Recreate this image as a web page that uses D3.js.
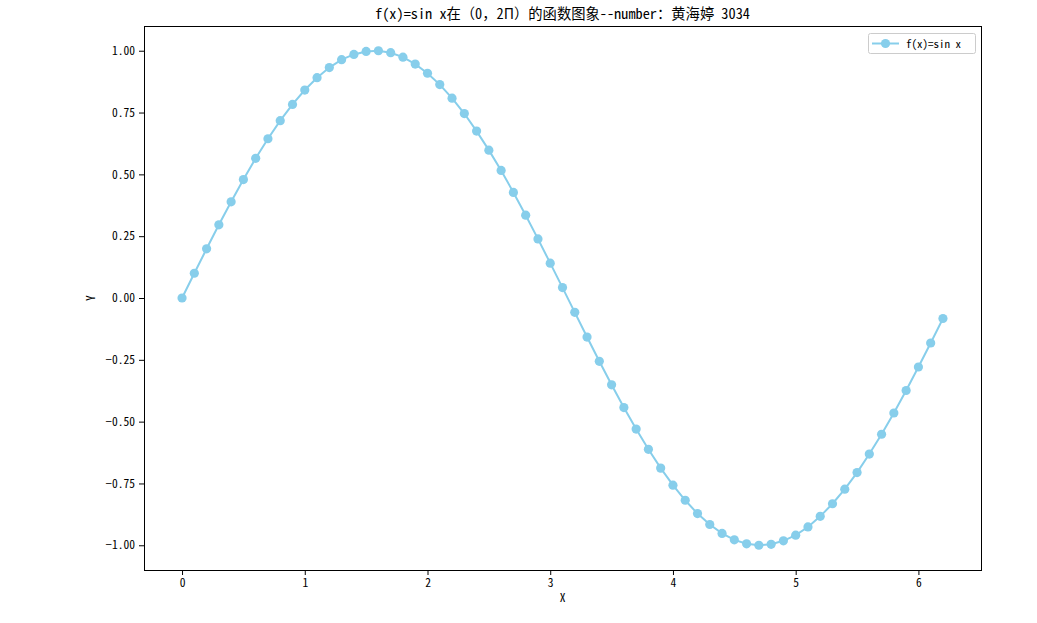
<!DOCTYPE html>
<html>
<head>
<meta charset="utf-8">
<script src="https://cdn.jsdelivr.net/npm/d3@7"></script>
<style>
  html, body { margin: 0; padding: 0; background: #fff; }
  text { font-family: "Noto Sans Mono CJK SC", "Noto Sans CJK SC", "DejaVu Sans", sans-serif; fill: #000; }
</style>
</head>
<body>
<svg id="chart" width="1037" height="623"></svg>
<script>
const xValues = [0.0,0.1,0.2,0.3,0.4,0.5,0.6,0.7,0.8,0.9,1.0,1.1,1.2,1.3,1.4,1.5,1.6,1.7,1.8,1.9,2.0,2.1,2.2,2.3,2.4,2.5,2.6,2.7,2.8,2.9,3.0,3.1,3.2,3.3,3.4,3.5,3.6,3.7,3.8,3.9,4.0,4.1,4.2,4.3,4.4,4.5,4.6,4.7,4.8,4.9,5.0,5.1,5.2,5.3,5.4,5.5,5.6,5.7,5.8,5.9,6.0,6.1,6.2];
const yValues = [0.000,0.100,0.199,0.296,0.389,0.479,0.565,0.644,0.717,0.783,0.841,0.891,0.932,0.964,0.985,0.997,1.000,0.992,0.974,0.946,0.909,0.863,0.808,0.746,0.675,0.598,0.516,0.427,0.335,0.239,0.141,0.042,-0.058,-0.158,-0.256,-0.351,-0.443,-0.530,-0.612,-0.688,-0.757,-0.818,-0.872,-0.916,-0.952,-0.978,-0.994,-1.000,-0.996,-0.982,-0.959,-0.926,-0.883,-0.832,-0.773,-0.706,-0.631,-0.551,-0.465,-0.374,-0.279,-0.182,-0.083];
const xTicks = [0,1,2,3,4,5,6];
const yTicks = [-1.00,-0.75,-0.50,-0.25,0.00,0.25,0.50,0.75,1.00];
const titleText = "f(x)=sin x在（0，2Π）的函数图象--number：黄海婷 3034";
const seriesLabel = "f(x)=sin x";
const xLabel = "X";
const yLabel = "Y";

const color = "#87CEEB";
const FONT = "'Noto Sans Mono CJK SC', 'Noto Sans CJK SC', sans-serif";
const mLeft = 144, mRight = 981, mTop = 26, mBottom = 570;
const svg = d3.select("#chart");

const x = d3.scaleLinear().domain([-0.31, 6.51]).range([mLeft, mRight]);
const y = d3.scaleLinear().domain([-1.1, 1.1]).range([mBottom, mTop]);

const fmtY = v => (v < 0 ? "\u2212" : "") + Math.abs(v).toFixed(2);

const xAxis = svg.append("g").attr("transform", `translate(0,${mBottom})`)
  .call(d3.axisBottom(x).tickValues(xTicks).tickSize(5).tickPadding(4).tickFormat(d3.format("d")));
const yAxis = svg.append("g").attr("transform", `translate(${mLeft},0)`)
  .call(d3.axisLeft(y).tickValues(yTicks).tickSize(5).tickPadding(4).tickFormat(fmtY));
[xAxis, yAxis].forEach(g => {
  g.select(".domain").remove();
  g.selectAll("line").attr("stroke", "#000").attr("stroke-width", 1);
  g.selectAll("text").attr("font-size", 11.5).attr("font-family", FONT).attr("fill", "#222");
});

// frame
svg.append("rect").attr("x", mLeft).attr("y", mTop).attr("width", mRight - mLeft).attr("height", mBottom - mTop)
  .attr("fill", "none").attr("stroke", "#000").attr("stroke-width", 1).attr("shape-rendering", "crispEdges");

const pts = xValues.map((v, i) => [v, yValues[i]]);
const line = d3.line().x(d => x(d[0])).y(d => y(d[1]));
svg.append("path").datum(pts).attr("d", line).attr("fill", "none").attr("stroke", color).attr("stroke-width", 2);
svg.append("g").selectAll("circle").data(pts).join("circle")
  .attr("cx", d => x(d[0])).attr("cy", d => y(d[1])).attr("r", 4.6).attr("fill", color);

// title
svg.append("text").attr("x", (mLeft + mRight) / 2).attr("y", 19).attr("text-anchor", "middle")
  .attr("font-size", 14.3).attr("fill", "#222").text(titleText);

// axis labels
svg.append("text").attr("x", (mLeft + mRight) / 2).attr("y", 602).attr("text-anchor", "middle")
  .attr("font-size", 11.5).attr("fill", "#222").text(xLabel);
svg.append("text").attr("transform", `translate(95,${(mTop + mBottom) / 2}) rotate(-90)`)
  .attr("text-anchor", "middle").attr("font-size", 11.5).attr("fill", "#222").text(yLabel);

// legend
const lg = svg.append("g");
lg.append("rect").attr("x", 868.5).attr("y", 33.5).attr("width", 107).attr("height", 20).attr("rx", 2)
  .attr("fill", "#fff").attr("stroke", "#ccc").attr("stroke-width", 1);
lg.append("line").attr("x1", 872).attr("x2", 899).attr("y1", 43.5).attr("y2", 43.5).attr("stroke", color).attr("stroke-width", 2);
lg.append("circle").attr("cx", 885.5).attr("cy", 43.5).attr("r", 4.6).attr("fill", color);
lg.append("text").attr("x", 906).attr("y", 47.5).attr("font-size", 11).attr("fill", "#222").text(seriesLabel);
</script>
</body>
</html>
